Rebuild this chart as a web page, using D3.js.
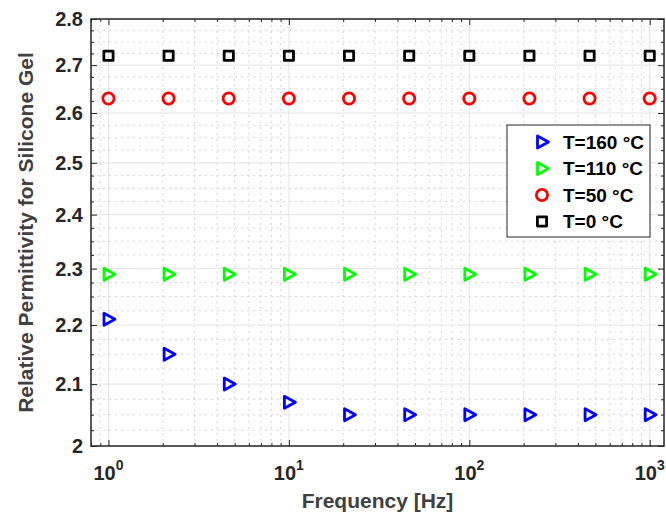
<!DOCTYPE html>
<html>
<head>
<meta charset="utf-8">
<script src="https://cdn.jsdelivr.net/npm/d3@7"></script>
<style>
  body { margin: 0; background: #fff; }
  text { font-family: "Liberation Sans", Arial, sans-serif; font-weight: bold; }
</style>
</head>
<body>
<div id="container"></div>
<script>
const W = 666
const H = 517
const margin = {top: 19, right: 2, bottom: 71, left: 91}
const width = W - margin.left - margin.right
const height = H - margin.top - margin.bottom

// data
const freq = [1, 2.154, 4.642, 10, 21.54, 46.42, 100, 215.4, 464.2, 1000]
const t160 = [2.21, 2.15, 2.10, 2.07, 2.05, 2.05, 2.05, 2.05, 2.05, 2.05]
const t110 = [2.29, 2.29, 2.29, 2.29, 2.29, 2.29, 2.29, 2.29, 2.29, 2.29]
const t50 = [2.63, 2.63, 2.63, 2.63, 2.63, 2.63, 2.63, 2.63, 2.63, 2.63]
const t0 = [2.72, 2.72, 2.72, 2.72, 2.72, 2.72, 2.72, 2.72, 2.72, 2.72]
const seriesNames = ['T=160 °C', 'T=110 °C', 'T=50 °C', 'T=0 °C']
const yTicks = [2, 2.1, 2.2, 2.3, 2.4, 2.5, 2.6, 2.7, 2.8]
const yTickLabels = ['2', '2.1', '2.2', '2.3', '2.4', '2.5', '2.6', '2.7', '2.8']
const xTicks = [1, 10, 100, 1000]
const xTickExp = ['0', '1', '2', '3']

const series = [
  {name: seriesNames[0], values: t160, color: '#0000ff', shape: 'tri'},
  {name: seriesNames[1], values: t110, color: '#00ff00', shape: 'tri'},
  {name: seriesNames[2], values: t50, color: '#ff0000', shape: 'circle'},
  {name: seriesNames[3], values: t0, color: '#000000', shape: 'square'}
]

const svg = d3.select('#container').append('svg')
  .attr('width', W)
  .attr('height', H)

const g = svg.append('g')
  .attr('transform', `translate(${margin.left},${margin.top})`)

//----------------------------SCALES----------------------------//
const x = d3.scaleLog().domain([0.8, 1200]).range([0, width])
const y = d3.scaleLog().domain([2, 2.8]).range([height, 0])

// minor tick positions
let xMinor = [0.8, 0.9]
for (let p = 0; p < 3; p++) {
  for (let m = 2; m <= 9; m++) xMinor.push(m * Math.pow(10, p))
}
let yMinor = []
for (let i = 0; i <= 32; i++) {
  const v = +(2 + i * 0.025).toFixed(3)
  if (i % 4 !== 0) yMinor.push(v)
}

//-----------------------------GRID-----------------------------//
const grid = g.append('g')
grid.selectAll('.xminor').data(xMinor).enter().append('line')
  .attr('x1', d => x(d)).attr('x2', d => x(d))
  .attr('y1', 0).attr('y2', height)
  .attr('stroke', '#d6d6d6').attr('stroke-width', 1).attr('stroke-dasharray', '2,4')
grid.selectAll('.yminor').data(yMinor).enter().append('line')
  .attr('x1', 0).attr('x2', width)
  .attr('y1', d => y(d)).attr('y2', d => y(d))
  .attr('stroke', '#d6d6d6').attr('stroke-width', 1).attr('stroke-dasharray', '2,4')
grid.selectAll('.xmajor').data(xTicks).enter().append('line')
  .attr('x1', d => x(d)).attr('x2', d => x(d))
  .attr('y1', 0).attr('y2', height)
  .attr('stroke', '#e3e3e3').attr('stroke-width', 1)
grid.selectAll('.ymajor').data(yTicks).enter().append('line')
  .attr('x1', 0).attr('x2', width)
  .attr('y1', d => y(d)).attr('y2', d => y(d))
  .attr('stroke', '#e3e3e3').attr('stroke-width', 1)

//-----------------------------AXES-----------------------------//
const axColor = '#262626'
function addAxis(axis, tr) {
  const a = g.append('g').attr('transform', tr).call(axis)
  a.select('.domain').remove()
  a.selectAll('line').attr('stroke', axColor).attr('stroke-width', 1)
  a.selectAll('text').remove()
}
addAxis(d3.axisBottom(x).tickValues(xTicks).tickSize(-6), `translate(0,${height})`)
addAxis(d3.axisBottom(x).tickValues(xMinor).tickSize(-3), `translate(0,${height})`)
addAxis(d3.axisTop(x).tickValues(xTicks).tickSize(-6), 'translate(0,0)')
addAxis(d3.axisTop(x).tickValues(xMinor).tickSize(-3), 'translate(0,0)')
addAxis(d3.axisLeft(y).tickValues(yTicks).tickSize(-6), 'translate(0,0)')
addAxis(d3.axisLeft(y).tickValues(yMinor).tickSize(-3), 'translate(0,0)')
addAxis(d3.axisRight(y).tickValues(yTicks).tickSize(-6), `translate(${width},0)`)
addAxis(d3.axisRight(y).tickValues(yMinor).tickSize(-3), `translate(${width},0)`)

g.append('rect')
  .attr('x', 0).attr('y', 0)
  .attr('width', width).attr('height', height)
  .attr('fill', 'none')
  .attr('stroke', axColor)
  .attr('stroke-width', 1.5)

// tick labels
g.selectAll('.ylab').data(yTicks).enter().append('text')
  .attr('x', -8)
  .attr('y', d => y(d))
  .attr('dy', '0.36em')
  .attr('text-anchor', 'end')
  .attr('fill', axColor)
  .style('font-size', '20px')
  .text((d, i) => yTickLabels[i])

const xl = g.selectAll('.xlab').data(xTicks).enter().append('text')
  .attr('x', d => x(d))
  .attr('y', height + 34)
  .attr('text-anchor', 'middle')
  .attr('fill', axColor)
  .style('font-size', '20px')
xl.append('tspan').text('10')
xl.append('tspan')
  .attr('dy', -10)
  .style('font-size', '14px')
  .text((d, i) => xTickExp[i])

// axis titles
svg.append('text')
  .attr('x', margin.left + width / 2)
  .attr('y', 508)
  .attr('text-anchor', 'middle')
  .attr('fill', '#404040')
  .style('font-size', '21px')
  .text('Frequency [Hz]')

svg.append('text')
  .attr('transform', `translate(33,${margin.top + height / 2}) rotate(-90)`)
  .attr('text-anchor', 'middle')
  .attr('fill', '#404040')
  .style('font-size', '21px')
  .text('Relative Permittivity for Silicone Gel')

//---------------------------MARKERS----------------------------//
const triPath = 'M-4.5,-6L6.5,0L-4.5,6Z'
function drawMarker(sel, shape, color) {
  if (shape === 'tri') {
    sel.append('path').attr('d', triPath)
      .attr('fill', 'none').attr('stroke', color).attr('stroke-width', 2.8)
      .attr('stroke-linejoin', 'round')
  } else if (shape === 'circle') {
    sel.append('circle').attr('r', 5.6)
      .attr('fill', 'none').attr('stroke', color).attr('stroke-width', 2.8)
  } else {
    sel.append('rect').attr('x', -4.6).attr('y', -4.6)
      .attr('width', 9.2).attr('height', 9.2)
      .attr('fill', 'none').attr('stroke', color).attr('stroke-width', 2.8)
      .attr('stroke-linejoin', 'round')
  }
}

series.forEach(s => {
  const pts = g.append('g').selectAll('g')
    .data(s.values.map((v, i) => ({f: freq[i], v: v})))
    .enter().append('g')
    .attr('transform', d => `translate(${x(d.f)},${y(d.v)})`)
  drawMarker(pts, s.shape, s.color)
})

//----------------------------LEGEND----------------------------//
const legend = svg.append('g').attr('transform', 'translate(507,125)')
legend.append('rect')
  .attr('width', 143).attr('height', 112)
  .attr('fill', '#fff')
  .attr('stroke', axColor).attr('stroke-width', 1)

series.forEach((s, i) => {
  const row = legend.append('g').attr('transform', `translate(0,${17 + i * 26.5})`)
  const m = row.append('g').attr('transform', 'translate(35,0)')
  drawMarker(m, s.shape, s.color)
  row.append('text')
    .attr('x', 56)
    .attr('dy', '0.36em')
    .attr('fill', '#000')
    .style('font-size', '19px')
    .text(s.name)
})
</script>
</body>
</html>
